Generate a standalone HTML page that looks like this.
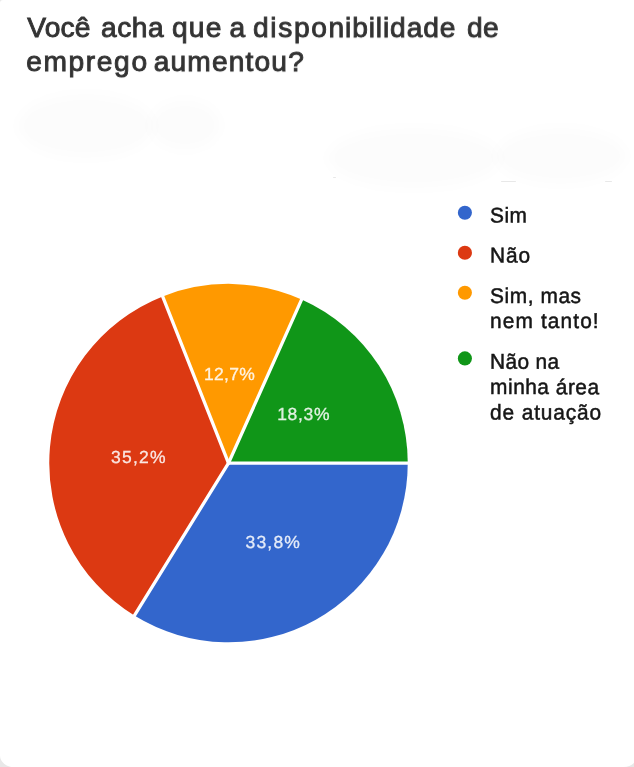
<!DOCTYPE html>
<html lang="pt-BR">
<head>
<meta charset="utf-8">
<title>Você acha que a disponibilidade de emprego aumentou?</title>
<style>
html{margin:0;padding:0;background:#fff;}
body{margin:0;padding:0;background:#e8e8e8;}
.card{position:absolute;left:0;top:0;width:637.5px;height:767px;background:#fff;border-radius:3px 0 14px 14px / 3px 0 14px 11.5px;}
body{width:634px;height:767px;position:relative;overflow:hidden;font-family:"Liberation Sans",sans-serif;}
.title{position:absolute;left:0;top:9.6px;width:634px;height:80px;margin:0;font-size:28.2px;line-height:34px;font-weight:normal;color:#333;letter-spacing:0.8px;-webkit-text-stroke:0.9px #333;transform:translateZ(0) rotate(0.02deg);transform-origin:0 0;white-space:nowrap;}
.title span{position:absolute;top:0;}
.title span.l2{top:34px;}
.smudge{position:absolute;background:rgba(0,0,0,0.013);border-radius:50%;filter:blur(6px);}
.speck{position:absolute;height:1.4px;background:rgba(0,0,0,.09);border-radius:1px;filter:blur(.5px);}
svg.chart{position:absolute;left:0;top:0;transform:translateZ(0);}
.lbl{font-family:"Liberation Sans",sans-serif;font-size:17.5px;fill:#fff;fill-opacity:0.85;stroke:#fff;stroke-opacity:0.85;stroke-width:0.3px;text-anchor:middle;letter-spacing:1.0px;}
.lg{font-family:"Liberation Sans",sans-serif;font-size:21.3px;fill:#161616;stroke:#161616;stroke-width:0.5px;}
</style>
</head>
<body>
<div class="card"></div>
<div class="smudge" style="left:18px;top:94px;width:136px;height:64px;"></div>
<div class="smudge" style="left:150px;top:100px;width:70px;height:50px;"></div>
<div class="smudge" style="left:328px;top:128px;width:172px;height:60px;"></div>
<div class="smudge" style="left:496px;top:128px;width:130px;height:56px;"></div>
<div class="speck" style="left:333px;top:176.5px;width:3px;"></div>
<div class="speck" style="left:501px;top:180.5px;width:15px;"></div>
<div class="speck" style="left:605px;top:180.5px;width:7px;"></div>
<h1 class="title"><span class="l1" style="left:27.31px;letter-spacing:0.140px">Você</span> <span class="l1" style="left:100.96px;letter-spacing:0.534px">acha</span> <span class="l1" style="left:171.93px;letter-spacing:1.200px">que</span> <span class="l1" style="left:229.51px;letter-spacing:0.860px">a</span> <span class="l1" style="left:252.98px;letter-spacing:1.626px">dispon</span><span class="l1" style="left:345.04px;letter-spacing:0.870px">ibilidade</span> <span class="l1" style="left:466.96px;letter-spacing:0.250px">de</span> <span class="l2" style="left:26.24px;letter-spacing:1.597px">emprego</span> <span class="l2" style="left:153.68px;letter-spacing:1.138px">aumentou?</span></h1>
<svg class="chart" width="634" height="767" viewBox="0 0 634 767">
<path d="M228.5,463.1 L407.75,463.10 A179.25,179.25 0 0 1 134.34,615.62 Z" fill="#3366cc"/>
<path d="M228.5,463.1 L134.34,615.62 A179.25,179.25 0 0 1 162.66,296.38 Z" fill="#dc3912"/>
<path d="M228.5,463.1 L162.66,296.38 A179.25,179.25 0 0 1 301.65,299.45 Z" fill="#ff9900"/>
<path d="M228.5,463.1 L301.65,299.45 A179.25,179.25 0 0 1 407.75,463.10 Z" fill="#109618"/>
<g stroke="#fff" stroke-width="3.3" stroke-linecap="round">
<line x1="228.5" y1="463.1" x2="409.75" y2="463.10"/>
<line x1="228.5" y1="463.1" x2="133.28" y2="617.33"/>
<line x1="228.5" y1="463.1" x2="161.93" y2="294.52"/>
<line x1="228.5" y1="463.1" x2="302.47" y2="297.63"/>
</g>
<text class="lbl" x="273.3" y="548.1" transform="rotate(0.03 273.3 548.1)" style="letter-spacing:1.2px">33,8%</text>
<text class="lbl" x="138.9" y="463.0" transform="rotate(0.03 138.9 463.0)" style="letter-spacing:1.2px">35,2%</text>
<text class="lbl" x="229.6" y="379.9" transform="rotate(0.03 229.6 379.9)" style="letter-spacing:0.3px">12,7%</text>
<text class="lbl" x="303.7" y="419.9" transform="rotate(0.03 303.7 419.9)" style="letter-spacing:0.7px">18,3%</text>
<circle cx="464.9" cy="212.8" r="7.05" fill="#3366cc"/>
<circle cx="464.9" cy="252.8" r="7.05" fill="#dc3912"/>
<circle cx="464.9" cy="292.7" r="7.05" fill="#ff9900"/>
<circle cx="464.9" cy="358.4" r="7.05" fill="#109618"/>
<g transform="translate(490.1 0) scale(0.98 1) translate(-490.1 0)">
<text class="lg" x="490.1" y="222.6" transform="rotate(0.03 490.1 222.6)" style="letter-spacing:0.38px">Sim</text>
<text class="lg" x="490.1" y="262.5" transform="rotate(0.03 490.1 262.5)" style="letter-spacing:0.87px">Não</text>
<text class="lg" x="490.1" y="303.0" transform="rotate(0.03 490.1 303.0)" style="letter-spacing:0.58px">Sim, mas</text>
<text class="lg" x="490.1" y="328.0" transform="rotate(0.03 490.1 328.0)" style="letter-spacing:1.13px">nem tanto!</text>
<text class="lg" x="490.1" y="368.75" transform="rotate(0.03 490.1 368.75)" style="letter-spacing:0.34px">Não na</text>
<text class="lg" x="490.1" y="394.1" transform="rotate(0.03 490.1 394.1)" style="letter-spacing:0.52px">minha área</text>
<text class="lg" x="490.1" y="419.4" transform="rotate(0.03 490.1 419.4)" style="letter-spacing:0.88px">de atuação</text>
</g>
</svg>
</body>
</html>
